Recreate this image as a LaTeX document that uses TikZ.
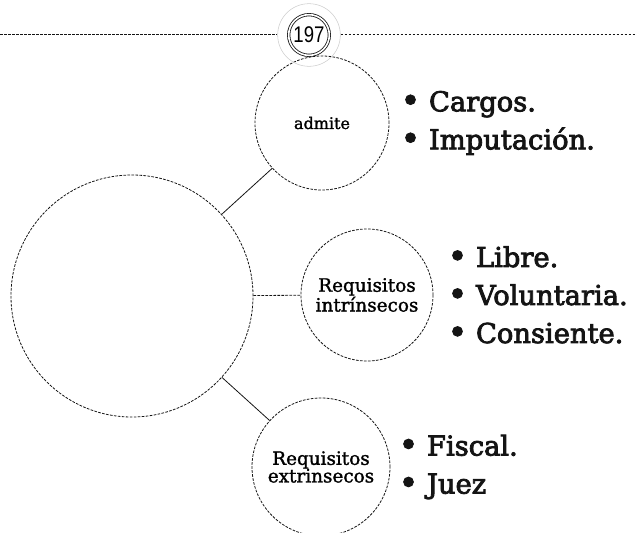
\documentclass[tikz,border=0pt]{standalone}
\usepackage{fontspec}
\usepackage{graphicx}
\setmainfont{DejaVu Serif}
\newfontfamily\pagefont{Liberation Sans}
\newfontfamily\listfont{DejaVu Serif}[FakeBold=3]
\newfontfamily\tagfont{DejaVu Serif}[FakeBold=1.5]
\newcommand{\bigdot}{{\fontsize{25}{0}\selectfont\raisebox{-0.6pt}{\textbullet}}}
\usepackage{xcolor}
\definecolor{ringGray}{RGB}{205, 205, 205}
\definecolor{inkBlack}{RGB}{20, 20, 20}
\usetikzlibrary{positioning,shapes,backgrounds}

\begin{document}
\begin{tikzpicture}[x=0.75pt, y=-0.75pt,
  bubble/.style={circle, draw=inkBlack, dash pattern=on 2pt off 1pt, line width=0.6pt, align=center, inner sep=0pt},
  bullets/.style={anchor=west, align=left, inner sep=0pt, text=inkBlack, font=\listfont\fontsize{20.5}{28.5}\selectfont},
  link/.style={draw=inkBlack, line width=0.6pt}]
\useasboundingbox (0,0) rectangle (635,532);
\clip (0,0) rectangle (635,532);

% bubbles
\node[bubble, minimum size=181.5pt] (core) at (132,296) {};
\node[bubble, minimum size=100.5pt, font=\tagfont\fontsize{12}{14}\selectfont] (admite) at (322,123) {admite};
\node[bubble, minimum size=99pt, font=\tagfont\fontsize{13.8}{13.2}\selectfont] (intrin) at (367,295) {Requisitos\\intrínsecos};
\node[bubble, minimum size=103.5pt, font=\tagfont\fontsize{13.8}{13.2}\selectfont] (extrin) at (321,467) {Requisitos\\extrinsecos};

% page number badge
\node[circle, draw=ringGray, line width=0.4pt, minimum size=47pt, inner sep=0pt] (ring) at (309,35) {};
\node[circle, draw=inkBlack, fill=white, double, double distance=1.2pt, line width=0.6pt, minimum size=30.5pt, inner sep=0pt, font=\pagefont\fontsize{17}{18}\selectfont] (page) at (309,35) {\scalebox{0.82}[1]{197}};
\coordinate (ruleL) at (0,34);
\coordinate (ruleR) at (635,34);
\draw[link, dash pattern=on 2pt off 1pt] (ruleL) -- (ruleL -| ring.west);
\draw[link, dash pattern=on 2pt off 1pt] (ruleR -| ring.east) -- (ruleR);

% connectors
\draw[link] (core) -- (admite);
\draw[link, dash pattern=on 2pt off 1pt] (core) -- (intrin);
\draw[link] (core) -- (extrin);

% lists
\node[bullets, right=8.25pt of admite] (listA) {\bigdot~Cargos.\\\bigdot~Imputación.};
\node[bullets, right=10.5pt of intrin] (listB) {\bigdot~Libre.\\\bigdot~Voluntaria.\\\bigdot~Consiente.};
\node[bullets, right=6pt of extrin] (listC) {\bigdot~Fiscal.\\\bigdot~Juez};
\end{tikzpicture}
\end{document}
